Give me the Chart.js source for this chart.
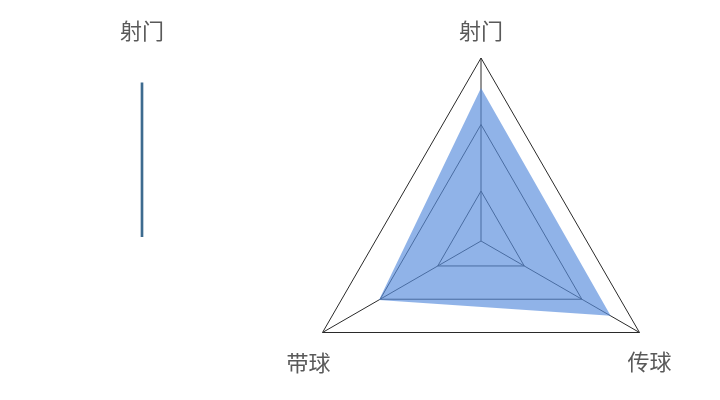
<!DOCTYPE html>
<html lang="zh">
<head>
    <meta charset="UTF-8">
    <title>射门 传球 带球</title>
    <style>
        html, body {
            margin: 0;
            padding: 0;
            background: #fff;
            overflow: hidden;
        }
        #radarBox {
            position: absolute;
            left: 0;
            top: 0;
            width: 720px;
            height: 480px;
        }
        #sideBox {
            position: absolute;
            left: 92px;
            top: -22px;
            width: 100px;
            height: 282px;
        }
    </style>
</head>
<body>
    <div id="radarBox"><canvas id="radarChart"></canvas></div>
    <div id="sideBox"><canvas id="sideChart"></canvas></div>

    <script src="https://cdn.jsdelivr.net/npm/chart.js"></script>
    <script>
        // data
        const skills = ['射门', '传球', '带球'];
        const skillValues = [2.55, 2.5, 2.02];
        const ringTicks = [0.25, 1, 2, 3];

        const sideLabels = ['射门'];
        const sideValues = [1];

        const labelFont = '22px "Noto Sans CJK SC", "Noto Sans", sans-serif';
        const labelColor = '#595959';
        // nudges for each point label, relative to its outer vertex
        const labelNudge = [[0, -27], [10, 29], [-14, 30]];

        const pointLabelPlugin = {
            id: 'pointLabelPlugin',
            afterDraw(chart) {
                const scale = chart.scales.r;
                const ctx = chart.ctx;
                ctx.save();
                ctx.font = labelFont;
                ctx.fillStyle = labelColor;
                ctx.textAlign = 'center';
                ctx.textBaseline = 'middle';
                chart.data.labels.forEach((label, i) => {
                    const p = scale.getPointPosition(i, scale.drawingArea);
                    ctx.fillText(label, p.x + labelNudge[i][0], p.y + labelNudge[i][1]);
                });
                ctx.restore();
            }
        };

        new Chart(document.getElementById('radarChart'), {
            type: 'radar',
            data: {
                labels: skills,
                datasets: [{
                    data: skillValues,
                    backgroundColor: 'rgba(90, 142, 221, 0.67)',
                    borderWidth: 0,
                    pointRadius: 0,
                    fill: true
                }]
            },
            options: {
                responsive: true,
                maintainAspectRatio: false,
                animation: false,
                layout: {
                    padding: { left: 298, right: 56, top: 58, bottom: 56 }
                },
                plugins: {
                    legend: { display: false },
                    tooltip: { enabled: false }
                },
                scales: {
                    r: {
                        min: 0.25,
                        max: 3,
                        afterBuildTicks: (scale) => {
                            scale.ticks = ringTicks.map(v => ({ value: v }));
                        },
                        ticks: { display: false },
                        pointLabels: { display: false },
                        grid: { color: '#2a2a2a', lineWidth: 1 },
                        angleLines: { color: '#2a2a2a', lineWidth: 1 }
                    }
                }
            },
            plugins: [pointLabelPlugin]
        });

        new Chart(document.getElementById('sideChart'), {
            type: 'bar',
            data: {
                labels: sideLabels,
                datasets: [{
                    data: sideValues,
                    backgroundColor: '#3d6b8f',
                    barThickness: 2
                }]
            },
            options: {
                responsive: true,
                maintainAspectRatio: false,
                animation: false,
                layout: {
                    padding: { left: 0, right: 0, top: 0, bottom: 23 }
                },
                plugins: {
                    legend: { display: false },
                    tooltip: { enabled: false }
                },
                scales: {
                    x: {
                        position: 'top',
                        grid: { display: false, drawTicks: false },
                        border: { display: false },
                        ticks: {
                            padding: 39,
                            color: labelColor,
                            font: { size: 22, family: '"Noto Sans CJK SC", "Noto Sans", sans-serif' }
                        }
                    },
                    y: {
                        display: false,
                        min: 0,
                        max: 1
                    }
                }
            }
        });
    </script>
</body>
</html>
